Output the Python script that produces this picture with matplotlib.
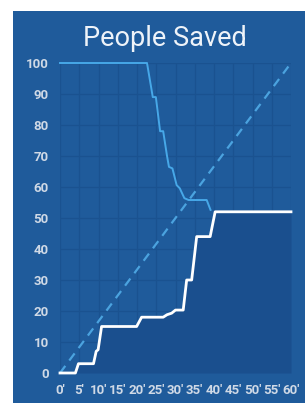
import matplotlib
matplotlib.use("Agg")
import matplotlib.pyplot as plt
from matplotlib.patches import Rectangle

# Data
saved_t = [0, 4, 4.8, 8.7, 9.4, 9.9, 10.8, 19.9, 21.2, 26.8, 27.8, 29, 30, 32, 32.9, 34.2, 35.5, 39, 40.3, 60]
saved_v = [0, 0, 3, 3, 7, 7.5, 15, 15, 18, 18, 18.8, 19.3, 20.3, 20.3, 30, 30, 44, 44, 52, 52]
remain_t = [0, 22.6, 24.1, 24.9, 26, 26.8, 27.8, 28.3, 29.2, 30.3, 31.1, 32.3, 33.4, 38.1, 39.1]
remain_v = [100, 100, 89, 89, 78, 78, 70, 66.5, 66, 60.6, 59.6, 56.4, 55.8, 55.8, 52.6]
target_t = [0, 60]
target_v = [0, 100]
xticks = list(range(0, 61, 5))
xlabels = [f"{t}'" for t in xticks]
yticks = list(range(0, 101, 10))
title = "People Saved"

W, H = 305, 403
fig = plt.figure(figsize=(W / 100, H / 100), dpi=100, facecolor="white")
bg = "#1f5b9b"
fig.patches.append(Rectangle((13 / W, 0), 1 - 13 / W, 1 - 11 / H, transform=fig.transFigure,
                             facecolor=bg, edgecolor="none", zorder=-5))

ax = fig.add_axes([60 / W, 1 - 373 / H, (291 - 60) / W, (373 - 63) / H])
ax.set_zorder(2)
ax.set_facecolor(bg)
ax.set_xlim(0, 60)
ax.set_ylim(0, 100)
for s in ax.spines.values():
    s.set_visible(False)

ax.set_xticks(xticks)
ax.set_xticklabels(xlabels)
ax.set_yticks(yticks)
ax.tick_params(length=0, colors="#cfd9e6", labelsize=9.5)
ax.tick_params(axis="x", pad=8)
ax.tick_params(axis="y", pad=8)
for lab in ax.get_xticklabels() + ax.get_yticklabels():
    lab.set_fontweight("bold")
    lab.set_family("Roboto")
ax.grid(True, color="#1a5290", linewidth=0.9)
ax.set_axisbelow(True)

ax.fill_between(saved_t, saved_v, 0, color="#1a4f8e", zorder=1, linewidth=0)
ax.plot(target_t, target_v, color="#4ba3df", linestyle=(0, (4, 3)), linewidth=1.6, zorder=2, clip_on=False)
ax.plot(remain_t, remain_v, color="#47a8e8", linewidth=1.4, zorder=3, clip_on=False)
ax.plot(saved_t, saved_v, color="white", linewidth=2.0, zorder=4, clip_on=False)

fig.text(165 / W, 1 - 38 / H, title, color="#eef3f9", fontsize=19.5, family="Roboto",
         ha="center", va="center", zorder=3)

fig.savefig("out.png", dpi=100, facecolor="white")
